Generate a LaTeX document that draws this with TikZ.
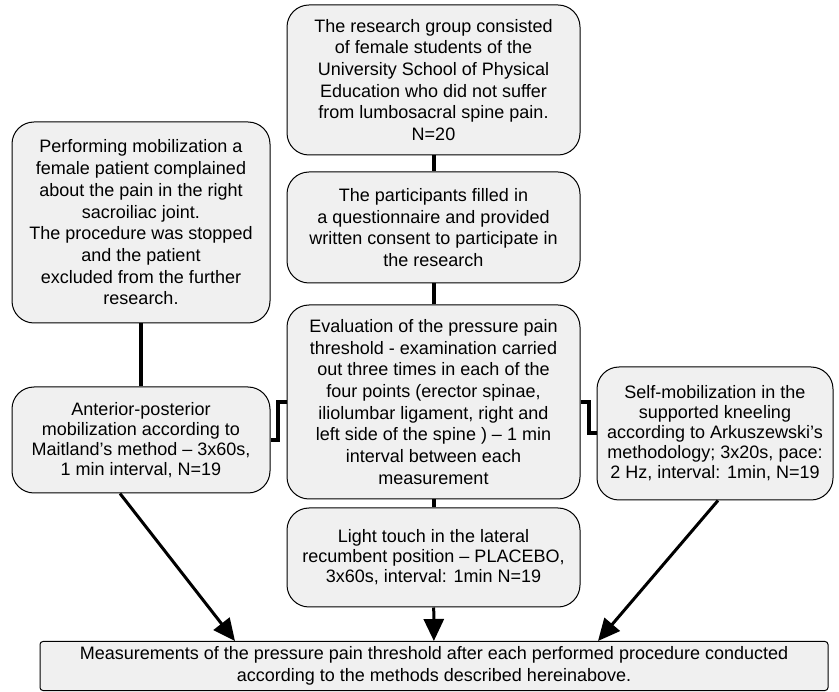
\documentclass[tikz,border=0pt]{standalone}
\usepackage{fontspec}
\setmainfont{Liberation Sans}
\usetikzlibrary{arrows.meta}
\usetikzlibrary{calc}
\usetikzlibrary{positioning}

\definecolor{boxgray}{RGB}{240,240,240}
\tikzset{
	stagebox/.style={draw=black, line width=1pt, fill=boxgray, rounded corners=22pt,
		align=center, inner sep=2pt, font=\fontsize{18}{21.7}\selectfont},
	tightbox/.style={stagebox, font=\fontsize{18}{20}\selectfont},
	link/.style={line width=4pt},
	flow/.style={line width=3pt, -{Triangle[length=22pt,width=20pt]}},
}

\begin{document}
\begin{tikzpicture}[x=1pt,y=-1pt]
		\useasboundingbox (0,0) rectangle (839,692);

		\node[stagebox, minimum width=293pt, minimum height=150pt] (group) at (433.5,80) {The research group consisted\\ of female students of the\\ University School of Physical\\ Education who did not suffer\\ from lumbosacral spine pain.\\ N=20};
		\node[stagebox, minimum width=293pt, minimum height=111pt] (consent) at (433.5,227.5) {The participants filled in\\ a questionnaire and provided\\ written consent to participate in\\ the research};
		\node[stagebox, minimum width=293pt, minimum height=194pt] (ppt) at (433.5,402) {Evaluation of the pressure pain\\ threshold - examination carried\\ out three times in each of the\\ four points (erector spinae,\\ iliolumbar ligament, right and\\ left side of the spine ) – 1 min\\ interval between each\\ measurement};
		\node[tightbox, minimum width=293pt, minimum height=99pt] (placebo) at (433.5,557.5) {Light touch in the lateral\\ recumbent position – PLACEBO,\\ 3x60s, interval: 1min N=19};

		\node[stagebox, minimum width=258pt, minimum height=201pt] (excluded) at (141,222.5) {Performing mobilization a\\ female patient complained\\ about the pain in the right\\ sacroiliac joint.\\ The procedure was stopped\\ and the patient\\ excluded from the further\\ research.};
		\node[tightbox, minimum width=258pt, minimum height=106pt] (maitland) at (141,440) {Anterior-posterior\\ mobilization according to\\ Maitland’s method – 3x60s,\\ 1 min interval, N=19};
		\node[tightbox, minimum width=236pt, minimum height=133pt] (selfmob) at (715,433.5) {Self-mobilization in the\\ supported kneeling\\ according to Arkuszewski’s\\ methodology; 3x20s, pace:\\ 2 Hz, interval: 1min, N=19};

		\node[stagebox, rounded corners=3pt, minimum width=788pt, minimum height=49pt] (final) at (434,666) {Measurements of the pressure pain threshold after each performed procedure conducted\\ according to the methods described hereinabove.};

		% vertical links
		\draw[link] (group) -- (consent);
		\draw[link] (consent) -- (ppt);
		\draw[link] (ppt) -- (placebo);
		\draw[link] (excluded) -- (maitland);

		% side steps
		\draw[link] (maitland.east) -- ++(7,0) |- (ppt.west);
		\draw[link] (ppt.east) -- ++(8,0) |- (selfmob.west);

		% arrows to the final measurement
		\draw[flow] ($(maitland.south)+(-21,0)$) -- ($(final.north)+(-199,0)$);
		\draw[flow] (placebo) -- (final);
		\draw[flow] ($(selfmob.south)+(3,0)$) -- ($(final.north)+(164,0)$);
	\end{tikzpicture}
\end{document}
